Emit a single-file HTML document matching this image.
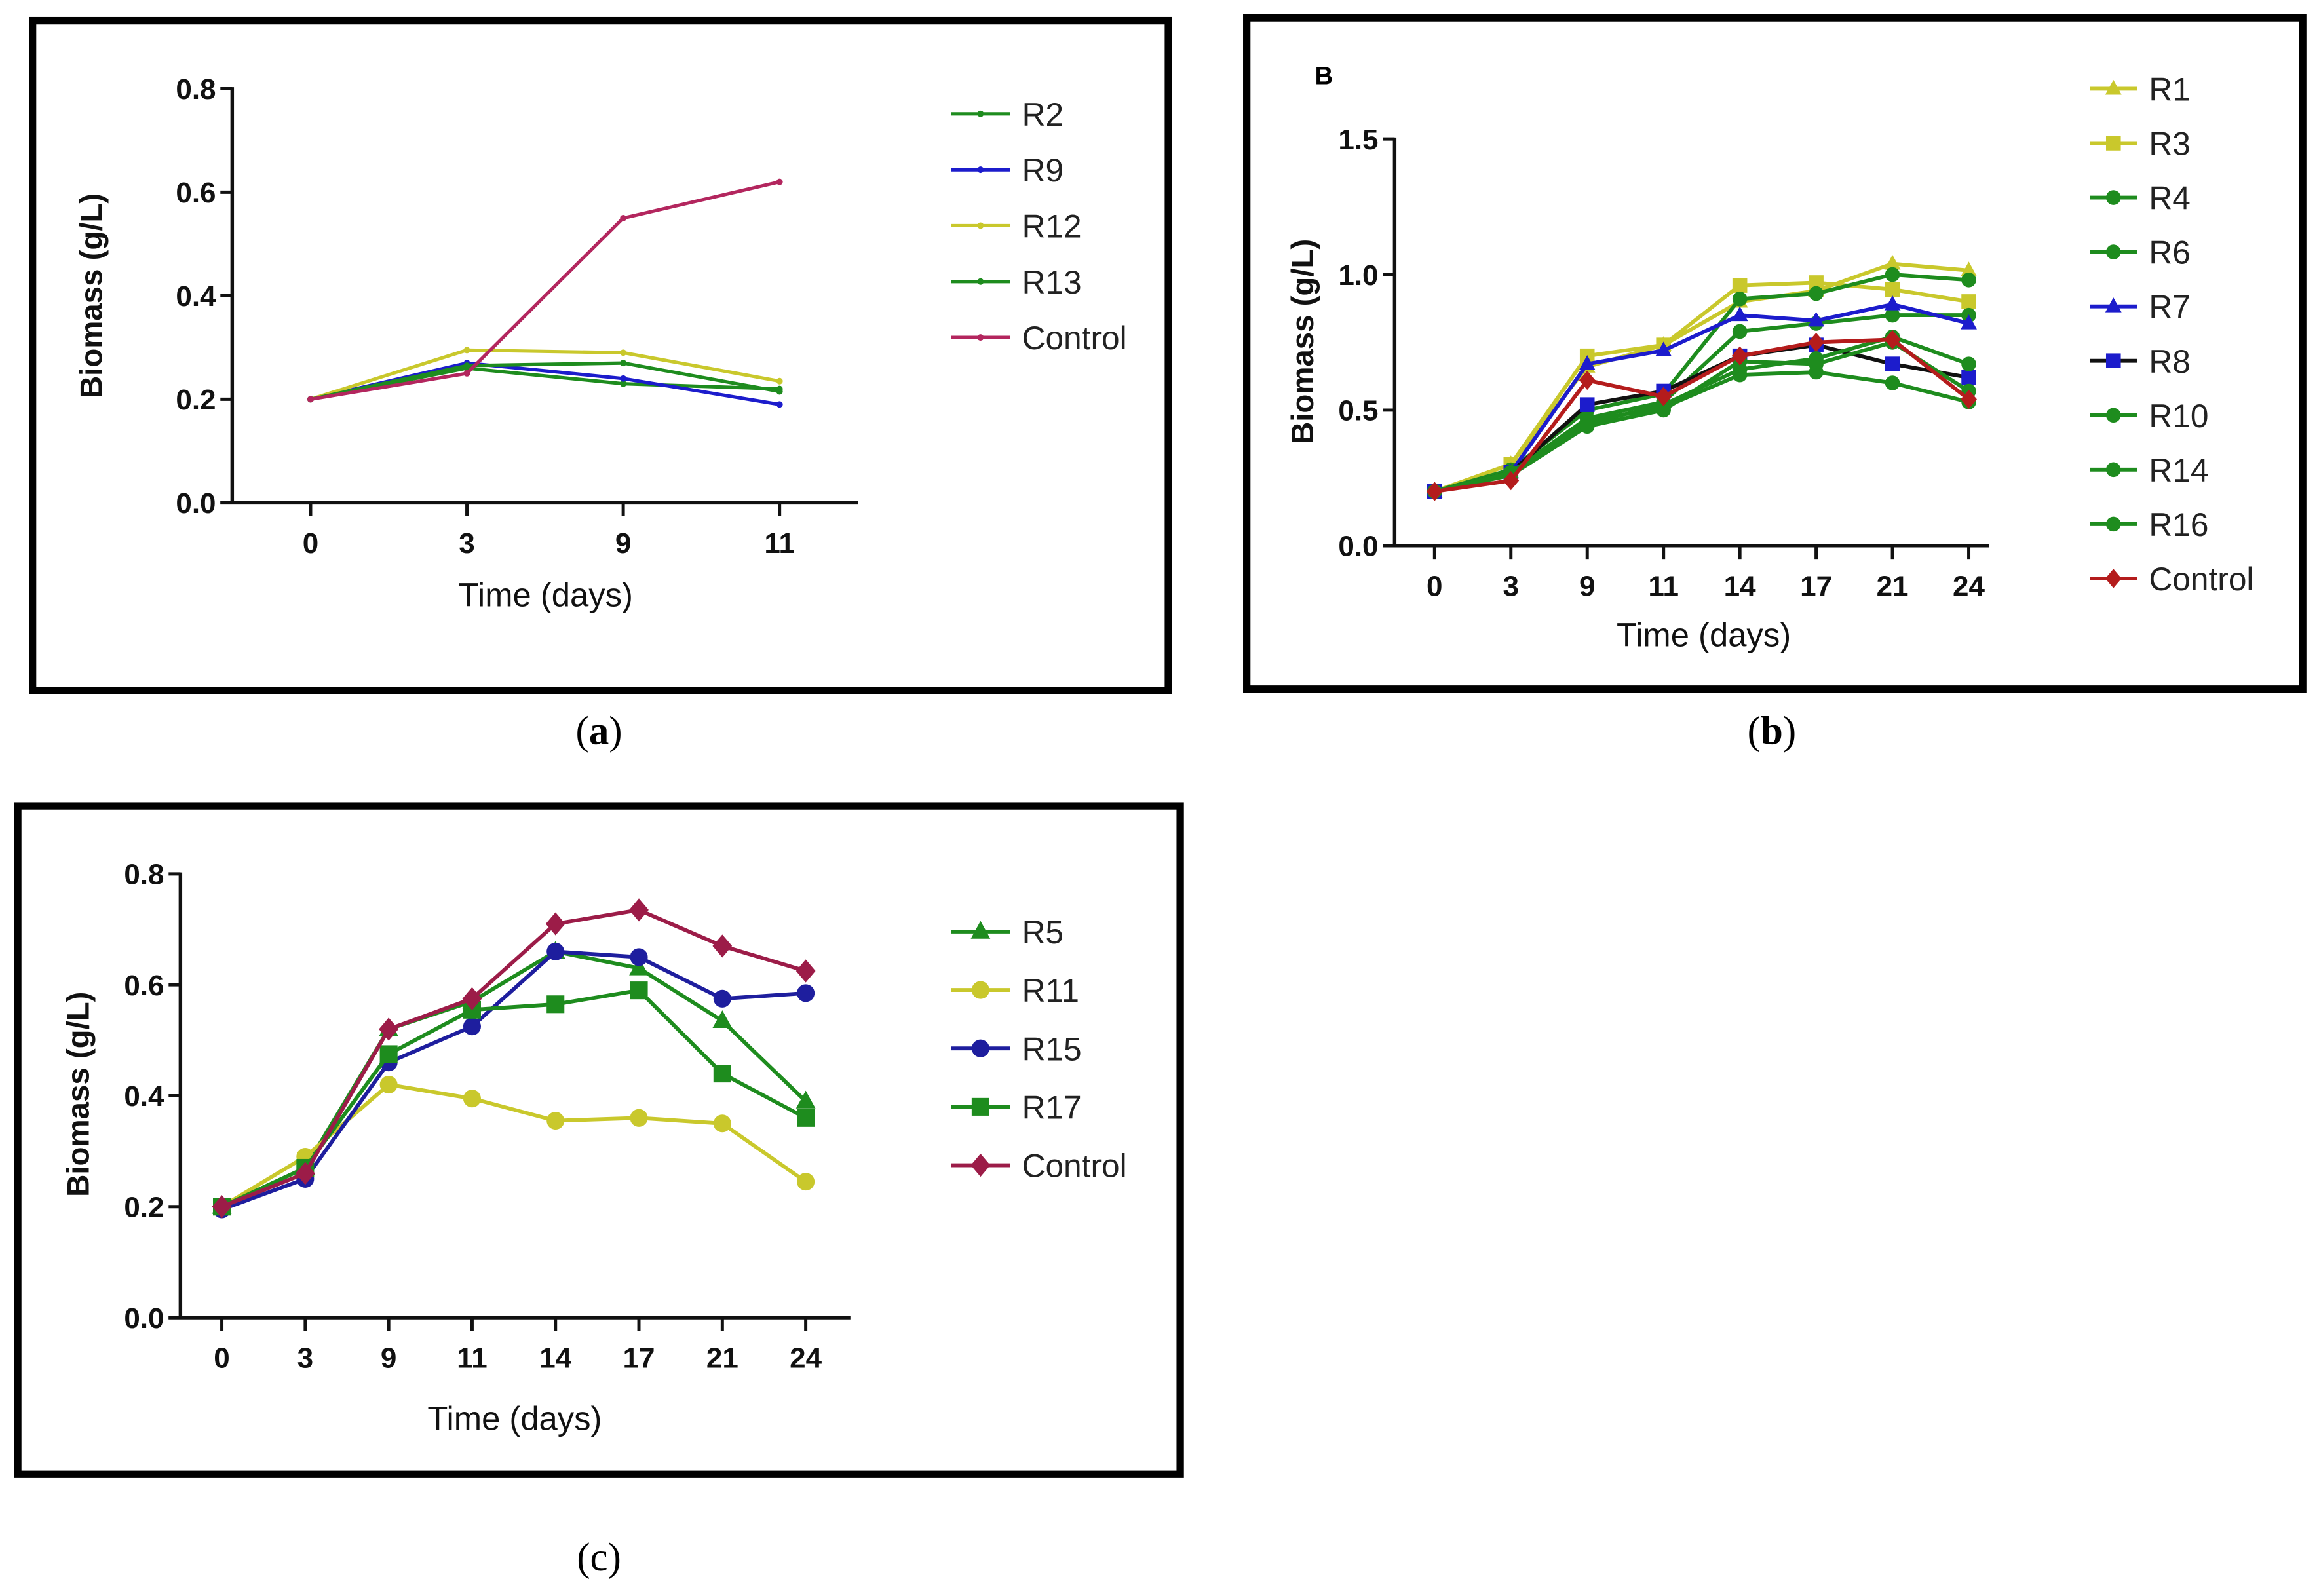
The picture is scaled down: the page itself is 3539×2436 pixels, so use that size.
<!DOCTYPE html>
<html><head><meta charset="utf-8">
<style>
html,body{margin:0;padding:0;background:#fff;}
svg{display:block;}
text{font-family:"Liberation Sans Narrow","Liberation Sans",sans-serif;}
.tk{font-size:19.5px;font-weight:bold;fill:#111;}
.ttl{font-size:22.5px;fill:#111;}
.yt{font-size:21px;font-weight:bold;fill:#111;font-family:"Liberation Sans",sans-serif;}
.lg{font-size:22px;fill:#222;}
.cap{font-family:"Liberation Serif",serif;font-size:27px;fill:#000;}
</style></head>
<body>
<svg id="fig" width="3539" height="2436" viewBox="0 0 1568 1079.3" preserveAspectRatio="none" xmlns="http://www.w3.org/2000/svg">
<rect x="0" y="0" width="1568" height="1080" fill="#fff"/>
<rect x="22" y="14" width="768" height="453" fill="none" stroke="#000" stroke-width="5"/>
<rect x="843" y="12" width="714" height="454" fill="none" stroke="#000" stroke-width="5"/>
<rect x="12" y="545" width="786" height="452" fill="none" stroke="#000" stroke-width="5"/>
<text class="cap" x="405" y="503" text-anchor="middle">(<tspan font-weight="bold">a</tspan>)</text>
<text class="cap" x="1198" y="503" text-anchor="middle">(<tspan font-weight="bold">b</tspan>)</text>
<text class="cap" x="405" y="1062" text-anchor="middle">(c)</text>
<text x="889" y="57" style="font-family:'Liberation Sans',sans-serif;font-size:17px;font-weight:bold">B</text>
<g id="A"></g><g id="B"></g><g id="C"></g>
</svg>
<script>
// Panel A data
const aCats = ["0","3","9","11"];
const aYTicks = [0.0,0.2,0.4,0.6,0.8];
const aNames = ["R2","R9","R12","R13","Control"];
const aR2 = [0.2,0.26,0.23,0.22];
const aR9 = [0.2,0.27,0.24,0.19];
const aR12 = [0.2,0.295,0.29,0.235];
const aR13 = [0.2,0.265,0.27,0.215];
const aControl = [0.2,0.25,0.55,0.62];
// Panel B data
const bCats = ["0","3","9","11","14","17","21","24"];
const bYTicks = [0.0,0.5,1.0,1.5];
const bNames = ["R1","R3","R4","R6","R7","R8","R10","R14","R16","Control"];
const bR1 = [0.2,0.30,0.66,0.74,0.90,0.94,1.04,1.015];
const bR3 = [0.2,0.30,0.70,0.74,0.96,0.97,0.945,0.90];
const bR4 = [0.2,0.28,0.50,0.56,0.91,0.93,1.0,0.98];
const bR6 = [0.2,0.27,0.47,0.53,0.79,0.82,0.85,0.85];
const bR7 = [0.2,0.27,0.67,0.72,0.85,0.83,0.89,0.82];
const bR8 = [0.2,0.27,0.52,0.57,0.70,0.74,0.67,0.62];
const bR10 = [0.2,0.27,0.45,0.52,0.65,0.69,0.77,0.67];
const bR14 = [0.2,0.27,0.46,0.51,0.63,0.64,0.60,0.53];
const bR16 = [0.2,0.26,0.44,0.50,0.68,0.67,0.75,0.57];
const bControl = [0.2,0.24,0.61,0.55,0.70,0.75,0.76,0.54];
// Panel C data
const cCats = ["0","3","9","11","14","17","21","24"];
const cYTicks = [0.0,0.2,0.4,0.6,0.8];
const cNames = ["R5","R11","R15","R17","Control"];
const cR5 = [0.2,0.27,0.52,0.57,0.66,0.63,0.535,0.39];
const cR11 = [0.2,0.29,0.42,0.395,0.355,0.36,0.35,0.245];
const cR15 = [0.195,0.25,0.46,0.525,0.66,0.65,0.575,0.585];
const cR17 = [0.2,0.27,0.475,0.555,0.565,0.59,0.44,0.36];
const cControl = [0.2,0.26,0.52,0.575,0.71,0.735,0.67,0.625];

const NS="http://www.w3.org/2000/svg";
function mk(parent,tag,attrs,txt){const e=document.createElementNS(NS,tag);for(const k in attrs)e.setAttribute(k,attrs[k]);if(txt!==undefined)e.textContent=txt;parent.appendChild(e);return e;}

function marker(g,shape,x,y,r,col){
  let e;
  if(shape==="circle") e=mk(g,"circle",{cx:x,cy:y,r:r,fill:col});
  else if(shape==="square") e=mk(g,"rect",{x:x-r,y:y-r,width:2*r,height:2*r,fill:col});
  else if(shape==="tri") e=mk(g,"polygon",{points:`${x},${y-r*1.2} ${x+r*1.1},${y+r*0.8} ${x-r*1.1},${y+r*0.8}`,fill:col});
  else if(shape==="diamond") e=mk(g,"polygon",{points:`${x},${y-r*1.3} ${x+r*1.1},${y} ${x},${y+r*1.3} ${x-r*1.1},${y}`,fill:col});
  else e=mk(g,"circle",{cx:x,cy:y,r:r,fill:col});
  
  
}

function drawPanel(id,cfg){
  const g=document.getElementById(id);
  const ys=v=>cfg.y0-(v-cfg.vmin)/(cfg.vmax-cfg.vmin)*(cfg.y0-cfg.y1);
  const xs=i=>cfg.xf+i*cfg.xstep;
  const ya=mk(g,"line",{x1:cfg.ax,y1:cfg.y1-1,x2:cfg.ax,y2:cfg.y0+1,stroke:"#111","stroke-width":2.4});
  
  
  const xa=mk(g,"line",{x1:cfg.ax-8,y1:cfg.y0,x2:cfg.xend,y2:cfg.y0,stroke:"#111","stroke-width":2.4});
  
  
  cfg.yticks.forEach(v=>{
    mk(g,"line",{x1:cfg.ax-8,y1:ys(v),x2:cfg.ax,y2:ys(v),stroke:"#111","stroke-width":2.2});
    const t=mk(g,"text",{x:cfg.ax-11,y:ys(v)+7,"text-anchor":"end",class:"tk"},v.toFixed(1));
    
    
  });
  cfg.cats.forEach((c,i)=>{
    mk(g,"line",{x1:xs(i),y1:cfg.y0,x2:xs(i),y2:cfg.y0+9,stroke:"#111","stroke-width":2.2});
    const t=mk(g,"text",{x:xs(i),y:cfg.y0+34,"text-anchor":"middle",class:"tk"},c);
    
    
  });
  const xt=mk(g,"text",{x:cfg.xtX,y:cfg.xtY,"text-anchor":"middle",class:"ttl"},"Time (days)");
  
  
  const yt=mk(g,"text",{x:0,y:0,"text-anchor":"middle",class:"yt",transform:`translate(${cfg.ytX},${cfg.ytY}) rotate(-90)`},"Biomass (g/L)");
  
  
  cfg.series.forEach((s,k)=>{
    const sg=mk(g,"g",{});
    
    
    const pts=s.data.map((v,i)=>xs(i)+","+ys(v)).join(" ");
    mk(sg,"polyline",{points:pts,fill:"none",stroke:s.line||s.col,"stroke-width":cfg.lw,"stroke-linejoin":"round"});
    s.data.forEach((v,i)=>marker(sg,s.shape,xs(i),ys(v),cfg.mr,s.col));
    const ly=cfg.ly0+k*cfg.ldy;
    const lg=mk(g,"g",{});
    
    
    mk(lg,"line",{x1:cfg.lx,y1:ly,x2:cfg.lx+cfg.lw2,y2:ly,stroke:s.line||s.col,"stroke-width":cfg.lw});
    marker(lg,s.shape,cfg.lx+cfg.lw2/2,ly,cfg.mr,s.col);
    mk(lg,"text",{x:cfg.lx+cfg.lw2+8,y:ly+8,class:"lg"},s.name);
  });
}

const G="#1e8c1e",Y="#c9c82c",BL="#1c1ccc",CR="#b3265e",NV="#1e1e9e",MR="#9c1c48",RD="#b41c1c";
drawPanel("A",{cats:aCats,yticks:aYTicks,vmin:0,vmax:0.8,y0:340,y1:60,ax:157,xend:580,xf:210,xstep:105.7,
  xtX:369,xtY:410,ytX:69,ytY:200,lw:2.3,mr:2.2,lx:643,lw2:40,ly0:77,ldy:37.8,
  series:[{name:aNames[0],data:aR2,col:G,shape:"circle"},{name:aNames[1],data:aR9,col:BL,shape:"circle"},
  {name:aNames[2],data:aR12,col:Y,shape:"circle"},{name:aNames[3],data:aR13,col:G,shape:"circle"},
  {name:aNames[4],data:aControl,col:CR,shape:"circle"}]});
drawPanel("B",{cats:bCats,yticks:bYTicks,vmin:0,vmax:1.5,y0:369,y1:94,ax:943,xend:1345,xf:970,xstep:51.6,
  xtX:1152,xtY:437,ytX:888,ytY:231,lw:2.6,mr:5,lx:1413,lw2:32,ly0:60,ldy:36.8,
  series:[{name:bNames[0],data:bR1,col:Y,shape:"tri"},{name:bNames[1],data:bR3,col:Y,shape:"square"},
  {name:bNames[2],data:bR4,col:G,shape:"circle"},{name:bNames[3],data:bR6,col:G,shape:"circle"},
  {name:bNames[4],data:bR7,col:BL,shape:"tri"},{name:bNames[5],data:bR8,col:BL,line:"#111",shape:"square"},
  {name:bNames[6],data:bR10,col:G,shape:"circle"},{name:bNames[7],data:bR14,col:G,shape:"circle"},
  {name:bNames[8],data:bR16,col:G,shape:"circle"},{name:bNames[9],data:bControl,col:RD,shape:"diamond"}]});
drawPanel("C",{cats:cCats,yticks:cYTicks,vmin:0,vmax:0.8,y0:891,y1:591,ax:122,xend:575,xf:150,xstep:56.4,
  xtX:348,xtY:967,ytX:60,ytY:740,lw:2.6,mr:6,lx:643,lw2:40,ly0:630,ldy:39.5,
  series:[{name:cNames[0],data:cR5,col:G,shape:"tri"},{name:cNames[1],data:cR11,col:Y,shape:"circle"},
  {name:cNames[2],data:cR15,col:NV,shape:"circle"},{name:cNames[3],data:cR17,col:G,shape:"square"},
  {name:cNames[4],data:cControl,col:MR,shape:"diamond"}]});
</script>
</body></html>
